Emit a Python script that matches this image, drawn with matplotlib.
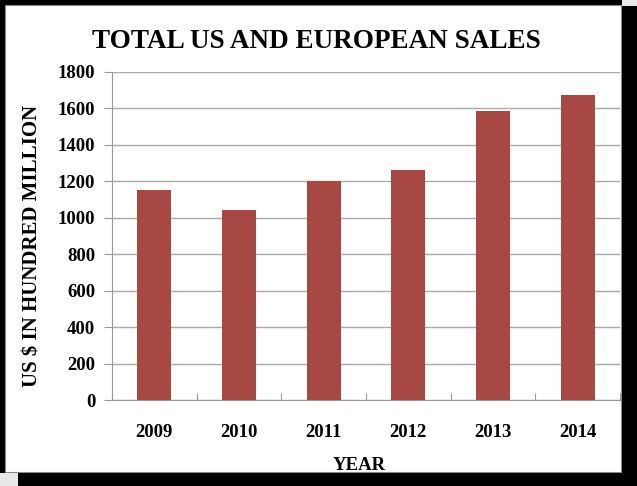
import matplotlib.pyplot as plt
from matplotlib.patches import Rectangle

years = ['2009', '2010', '2011', '2012', '2013', '2014']
sales = [1155, 1040, 1200, 1262, 1585, 1672]
yticks = [0, 200, 400, 600, 800, 1000, 1200, 1400, 1600, 1800]

plt.rcParams['font.family'] = ['Liberation Serif', 'DejaVu Serif']
plt.rcParams['font.weight'] = 'bold'

W, H = 637, 486
fig = plt.figure(figsize=(W / 100, H / 100), dpi=100)
fig.patch.set_facecolor('#e8e8e8')

# drop shadow and framed white panel
fig.patches.append(Rectangle((18 / W, 0), 1 - 18 / W, 1 - 6 / H,
                             transform=fig.transFigure, facecolor='black',
                             edgecolor='none', zorder=-3))
fig.patches.append(Rectangle((0, 13 / H), 622 / W, 1 - 13 / H,
                             transform=fig.transFigure, facecolor='black',
                             edgecolor='none', zorder=-2))
fig.patches.append(Rectangle((5 / W, 14 / H), 616 / W, 1 - 19 / H,
                             transform=fig.transFigure, facecolor='white',
                             edgecolor='#888888', linewidth=0.8, zorder=-1))

ax = fig.add_axes([112 / W, 1 - 400 / H, 508 / W, 328 / H])
ax.set_zorder(2)
ax.set_facecolor('white')
x = range(len(years))
ax.bar(x, sales, width=0.4, color='#a84843', zorder=3)
ax.set_xlim(-0.5, len(years) - 0.5)
ax.set_ylim(0, 1800)
ax.set_yticks(yticks)
ax.yaxis.grid(True, color='#aaaaaa', linewidth=1)
ax.set_axisbelow(True)
ax.set_xticks([i - 0.5 for i in range(len(years) + 1)], minor=False)
ax.set_xticklabels([])
ax.set_xticks(list(x), minor=True)
ax.set_xticklabels(years, minor=True, fontsize=13.5, fontweight='bold')
ax.tick_params(axis='x', which='minor', length=0, pad=17)
ax.tick_params(axis='x', which='major', length=5, color='#999999', direction='in')
ax.tick_params(axis='y', length=6, color='#999999', labelsize=13.5, pad=6)
for lbl in ax.get_yticklabels():
    lbl.set_fontweight('bold')
for s in ['top', 'right']:
    ax.spines[s].set_visible(False)
ax.spines['left'].set_color('#999999')
ax.spines['bottom'].set_color('#999999')

ax.set_xlabel('YEAR', fontsize=13.5, fontweight='bold')
ax.xaxis.set_label_coords(0.487, -0.175)
ax.set_ylabel('US $ IN HUNDRED MILLION', fontsize=15, fontweight='bold')
ax.yaxis.set_label_coords(-0.136, 0.47)
fig.text(316 / W, 1 - 41 / H, 'TOTAL US AND EUROPEAN SALES', ha='center',
         va='center', fontsize=19.5, fontweight='bold')

fig.savefig('out.png', dpi=100)
